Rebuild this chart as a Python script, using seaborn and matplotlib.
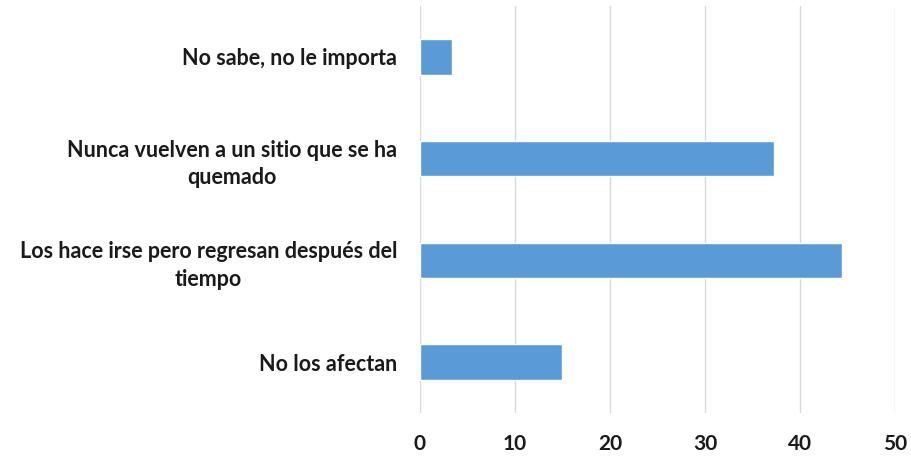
import matplotlib
matplotlib.use("Agg")
import matplotlib.pyplot as plt
import seaborn as sns
import pandas as pd

# ===============================
# DATA
# ===============================
categories = [
    "No sabe, no le importa",
    "Nunca vuelven a un sitio que se ha\nquemado",
    "Los hace irse pero regresan después del\ntiempo",
    "No los afectan",
]
values = [3.4, 37.2, 44.4, 15.0]
x_ticks = [0, 10, 20, 30, 40, 50]

BAR_COLOR = "#5B9BD5"
GRID_COLOR = "#D9D9D9"

df = pd.DataFrame({"categoria": categories, "valor": values})

# ===============================
# PLOT
# ===============================
sns.set_style("white")
plt.rcParams["font.family"] = ["Lato", "DejaVu Sans"]
plt.rcParams["font.weight"] = "bold"

fig = plt.figure(figsize=(9.12, 4.58), dpi=100)
ax = fig.add_axes([0.46, 0.098, 0.5217, 0.889])

sns.barplot(data=df, x="valor", y="categoria", color=BAR_COLOR,
            width=0.35, saturation=1, ax=ax, orient="h")

ax.set_xlim(0, 50)
ax.set_xticks(x_ticks)
ax.set_xticklabels([str(t) for t in x_ticks])
ax.xaxis.grid(True, color=GRID_COLOR, linewidth=1)
ax.set_axisbelow(True)
ax.set_xlabel("")
ax.set_ylabel("")

for lbl in ax.get_xticklabels():
    lbl.set_fontsize(15)
    lbl.set_fontweight("bold")
    lbl.set_color("#1a1a1a")
for lbl in ax.get_yticklabels():
    lbl.set_fontsize(15.5)
    lbl.set_fontweight("bold")
    lbl.set_color("#1a1a1a")
    lbl.set_multialignment("center")
    lbl.set_linespacing(1.38)

for s in ax.spines.values():
    s.set_visible(False)
ax.tick_params(axis="both", length=0)
ax.tick_params(axis="x", pad=15)
ax.tick_params(axis="y", pad=16)

plt.savefig("out.png", dpi=100)
plt.close()
